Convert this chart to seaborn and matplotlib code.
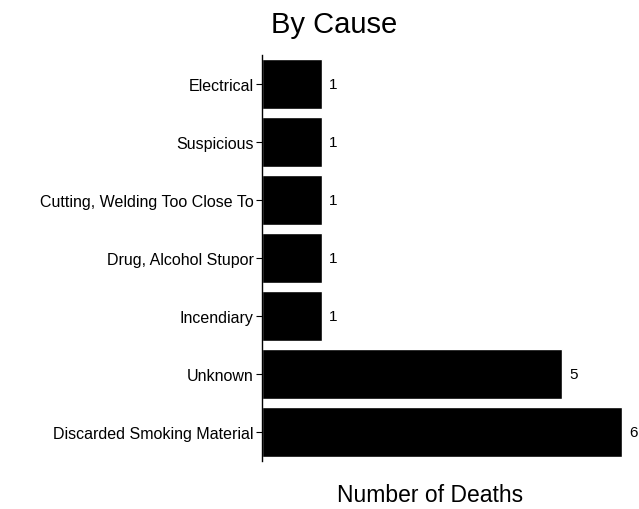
import pandas as pd
import seaborn as sns
import matplotlib.pyplot as plt

# data
causes = ["Electrical", "Suspicious", "Cutting, Welding Too Close To",
          "Drug, Alcohol Stupor", "Incendiary", "Unknown",
          "Discarded Smoking Material"]
deaths = [1, 1, 1, 1, 1, 5, 6]


def main():
    df = pd.DataFrame({"cause": causes, "deaths": deaths})

    sns.set_style("white")
    plt.rcParams["font.family"] = ["Liberation Sans", "DejaVu Sans"]
    plt.rcParams["text.color"] = "black"
    plt.rcParams["ytick.color"] = "black"
    plt.rcParams["axes.labelcolor"] = "black"

    fig = plt.figure(figsize=(6.39, 5.10), dpi=100)
    ax = fig.add_axes([262 / 639, 1 - 462 / 510, 1 - 262 / 639, (462 - 56) / 510])

    sns.barplot(data=df, x="deaths", y="cause", orient="h", color="black",
                saturation=1, width=0.86, ax=ax)

    # value labels at the end of each bar
    for c in ax.containers:
        ax.bar_label(c, padding=5, fontsize=11, color="black")

    ax.set_xlim(0, 6.28)
    ax.set_ylim(6.5, -0.5)
    ax.set_xlabel("")
    ax.set_ylabel("")
    ax.set_xticks([])
    ax.tick_params(axis="y", left=True, length=4, width=0.8, pad=2,
                   labelsize=11.5, color="black", labelcolor="black")
    for s in ["top", "right", "bottom"]:
        ax.spines[s].set_visible(False)
    ax.spines["left"].set_color("black")
    ax.spines["left"].set_linewidth(1.0)

    fig.text(334 / 639, 1 - 25 / 510, "By Cause", ha="center", va="center",
             fontsize=21, color="black")
    fig.text(430 / 639, 1 - 496 / 510, "Number of Deaths", ha="center",
             va="center", fontsize=16.5, color="black")

    fig.savefig("out.png", dpi=100)


if __name__ == "__main__":
    main()
